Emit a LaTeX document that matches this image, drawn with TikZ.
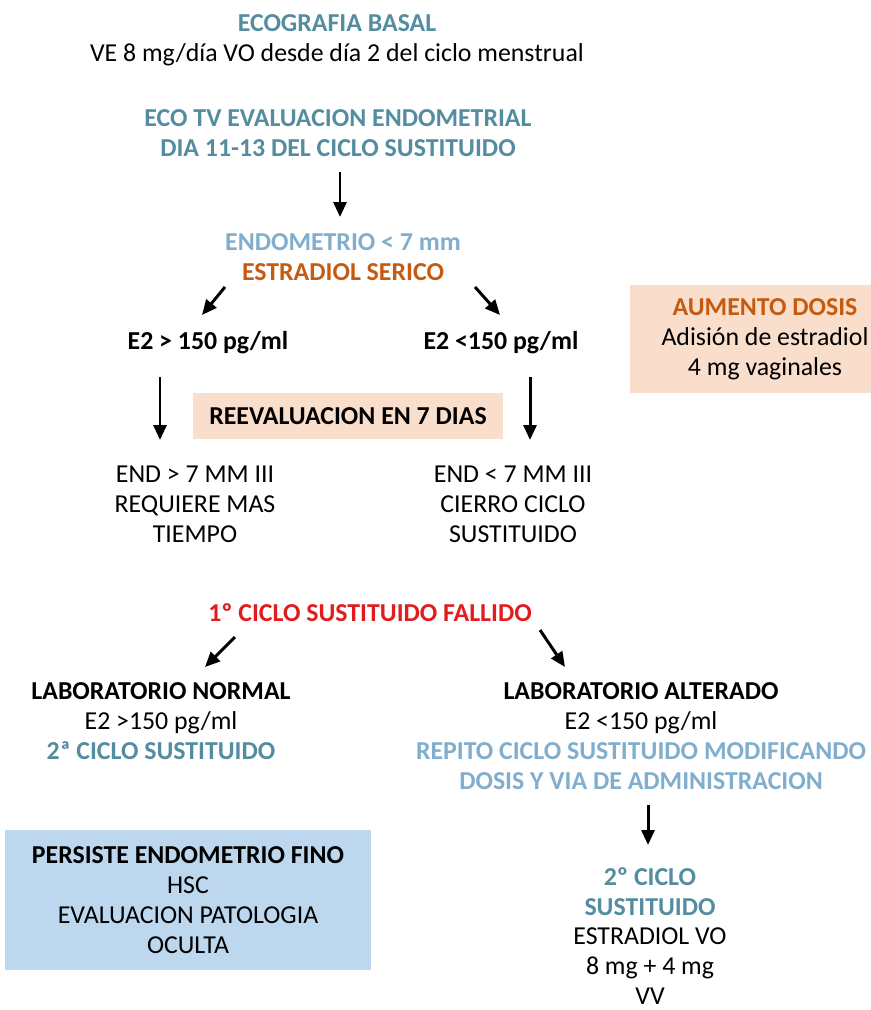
\documentclass[tikz,border=0pt]{standalone}
\usepackage{fontspec}
\setmainfont{Carlito}
\usetikzlibrary{arrows.meta,calc}

\definecolor{tealc}{RGB}{84,140,160}
\definecolor{lblue}{RGB}{128,174,204}
\definecolor{orng}{RGB}{197,90,17}
\definecolor{redc}{RGB}{226,28,28}
\definecolor{peach}{RGB}{250,222,204}
\definecolor{boxblue}{RGB}{189,215,238}

\begin{document}
\begin{tikzpicture}[
        x=0.02cm, y=-0.02cm,
        txt/.style={align=center, inner sep=0pt, font=\fontsize{14.7}{17}\selectfont},
        bold/.style={txt, font=\fontsize{14.7}{17}\selectfont\bfseries},
        box/.style={txt, minimum width=#1, fill=peach},
        arrow/.style={-{Triangle[length=0.3cm,width=0.26cm]}, line width=1.7pt}
    ]
        \useasboundingbox (0,0) rectangle (870,1010);

        % top part
        \node[txt] (basal) at (337,40) {\textcolor{tealc}{\textbf{ECOGRAFIA BASAL}}\\VE 8 mg/día VO desde día 2 del ciclo menstrual};
        \node[bold, text=tealc] (ecotv) at (338,133) {ECO TV  EVALUACION ENDOMETRIAL\\DIA 11-13 DEL CICLO  SUSTITUIDO};
        \node[bold] (endo) at (343,257) {\textcolor{lblue}{ENDOMETRIO < 7 mm}\\\textcolor{orng}{ESTRADIOL SERICO}};
        \node[bold] (e2l) at (208,343) {E2 > 150 pg/ml};
        \node[bold] (e2r) at (501,343) {E2 <150 pg/ml};
        \node[box=5.4cm, minimum height=2.16cm] (aumento) at (765,339) {\textcolor{orng}{\textbf{AUMENTO DOSIS}}\\Adisión de estradiol\\4 mg vaginales};
        \node[box=6.2cm, bold, minimum height=0.94cm] (reeval) at (348,416) {REEVALUACION EN 7 DIAS};
        \node[txt] (endl) at (195,504) {END > 7 MM III\\REQUIERE MAS\\TIEMPO};
        \node[txt] (endr) at (513,504) {END < 7 MM III\\CIERRO CICLO\\SUSTITUIDO};

        % lower part
        \node[bold, text=redc] (fallido) at (370,613) {1º CICLO SUSTITUIDO FALLIDO};
        \node[txt] (labn) at (161,721) {\textbf{LABORATORIO NORMAL}\\E2 >150 pg/ml\\\textcolor{tealc}{\textbf{2ª CICLO  SUSTITUIDO}}};
        \node[txt] (laba) at (641,736) {\textbf{LABORATORIO ALTERADO}\\E2 <150 pg/ml\\\textcolor{lblue}{\textbf{REPITO CICLO SUSTITUIDO MODIFICANDO}}\\\textcolor{lblue}{\textbf{DOSIS Y VIA DE ADMINISTRACION}}};
        \node[txt, fill=boxblue, minimum width=7.34cm, minimum height=2.8cm] (persiste) at (188,900) {\textbf{PERSISTE ENDOMETRIO FINO}\\HSC\\EVALUACION PATOLOGIA\\OCULTA};
        \node[txt] (ciclo2) at (650,936) {\textcolor{tealc}{\textbf{2º CICLO}}\\\textcolor{tealc}{\textbf{SUSTITUIDO}}\\ESTRADIOL VO\\8 mg + 4 mg\\VV};

        % arrows
        \draw[arrow] ($(ecotv.center)+(2,39)$) -- ($(endo.center)+(-3,-40)$);
        \draw[arrow] ($(endo.center)+(-118,30)$) -- ($(e2l.center)+(-6,-28)$);
        \draw[arrow] ($(endo.center)+(132,30)$) -- ($(e2r.center)+(-1,-28)$);
        \draw[arrow] ($(e2l.center)+(-48,34)$) -- ($(endl.center)+(-35,-64)$);
        \draw[arrow] ($(e2r.center)+(29,34)$) -- ($(endr.center)+(17,-64)$);
        \draw[arrow] ($(fallido.center)+(-135,24)$) -- ($(labn.center)+(44,-54)$);
        \draw[arrow] ($(fallido.center)+(170,17)$) -- ($(laba.center)+(-76,-69)$);
        \draw[arrow] ($(laba.center)+(7,69)$) -- ($(ciclo2.center)+(-2,-91)$);
    \end{tikzpicture}
\end{document}
